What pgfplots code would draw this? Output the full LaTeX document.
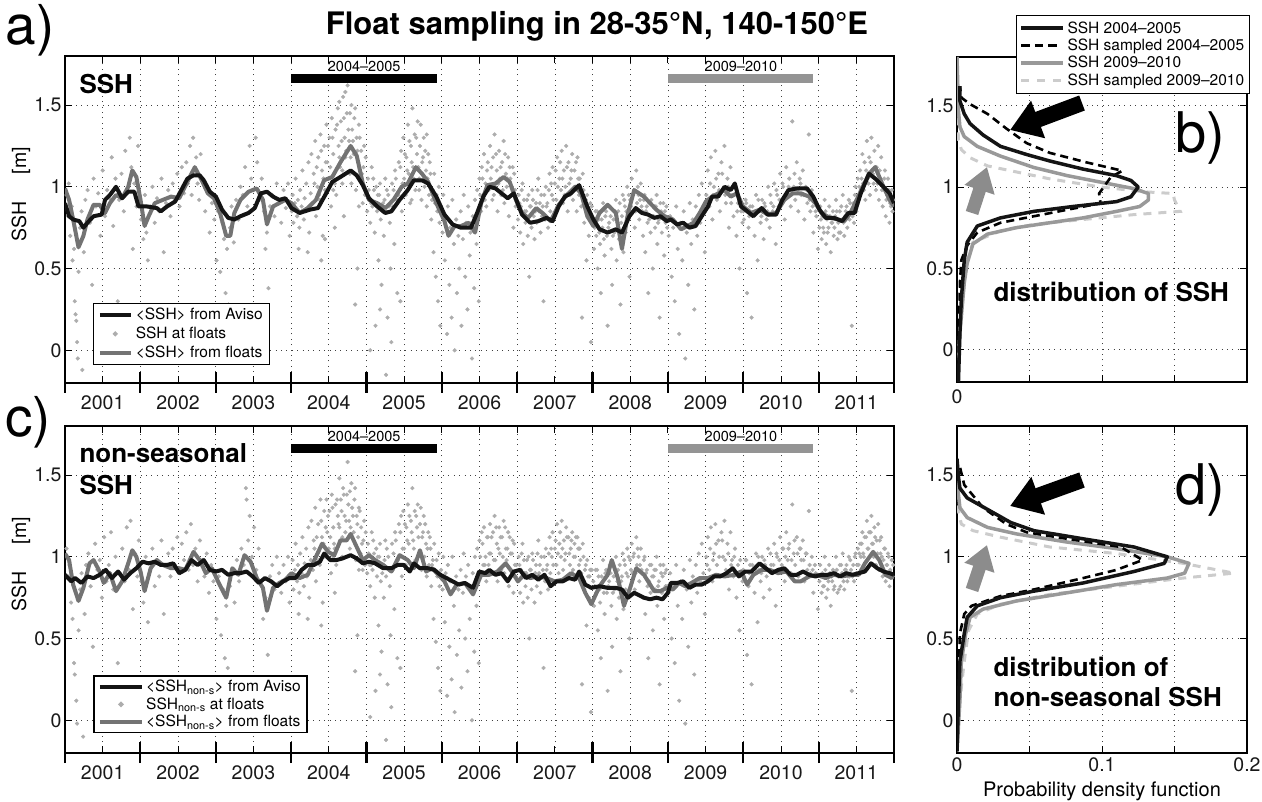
\documentclass[border=0pt]{standalone}
\usepackage{fontspec}
\setmainfont{TeX Gyre Heros}
\usepackage{pgfplots}
\pgfplotsset{compat=1.18}
\usetikzlibrary{arrows.meta}
\definecolor{dotgray}{gray}{0.68}
\definecolor{linegray}{gray}{0.45}
\definecolor{bargray}{gray}{0.58}
\definecolor{pdfgray}{gray}{0.6}
\definecolor{pdflight}{gray}{0.8}
\definecolor{arrowgray}{gray}{0.55}
\definecolor{lineblack}{gray}{0.08}
\pgfplotsset{
  myaxis/.style={
    scale only axis, ymin=-0.2, ymax=1.8,
    ytick={0,0.5,1,1.5}, yticklabels={0,0.5,1,1.5},
    grid=major, major grid style={black!75, line width=0.7pt, dash pattern=on 0.9pt off 4.5pt},
    tick align=inside, major tick length=7pt,
    tick style={black, line width=0.9pt},
    axis line style={black, line width=1.3pt},
    tick label style={font=\fontsize{19.5}{20}\selectfont, text=black!90},
    clip mode=individual,
  },
  timeaxis/.style={myaxis, width=829pt, height=327pt, xmin=2001, xmax=2012,
    xtick={2001,2001.5,2002,2002.5,2003,2003.5,2004,2004.5,2005,2005.5,2006,2006.5,2007,2007.5,2008,2008.5,2009,2009.5,2010,2010.5,2011,2011.5,2012},
    xticklabels={,2001,,2002,,2003,,2004,,2005,,2006,,2007,,2008,,2009,,2010,,2011,},
    xticklabel style={yshift=-9pt}},
  pdfaxis/.style={myaxis, width=290pt, xmin=0, xmax=0.2, xtick={0,0.05,0.1,0.15,0.2}},
  dots/.style={only marks, mark=*, mark size=1.9pt, color=dotgray, mark options={draw=none, fill=dotgray}, forget plot},
  avisoline/.style={lineblack, line width=4pt, line join=round, forget plot},
  floatline/.style={linegray, line width=4pt, line join=round, forget plot},
}
\begin{document}
\begin{tikzpicture}
\path[use as bounding box] (0,0) rectangle (1262pt,-802pt);

% ---------------- panel a ----------------
\begin{axis}[timeaxis, at={(65pt,-383pt)}, anchor=south west,
  legend style={at={(0.034,0.055)}, anchor=south west, draw=black, line width=1.2pt, fill=white,
    font=\fontsize{15.5}{16}\selectfont, inner xsep=4pt, inner ysep=2pt, row sep=0pt,
    nodes={inner sep=3pt}, legend cell align=left}]
\addplot[dots] coordinates {
(2001.02,0.95) (2001.04,0.82) (2001.05,1.02) (2001.07,0.70) (2001.09,0.88) (2001.10,0.55) (2001.12,0.62) (2001.13,0.30) (2001.14,0.22) (2001.15,0.18) (2001.16,0.05) (2001.17,-0.05) (2001.18,0.48) (2001.20,0.75) (2001.22,0.85) (2001.23,-0.12) (2001.25,0.60) (2001.27,0.92) (2001.30,0.98) (2001.33,0.78) (2001.36,0.40) (2001.38,1.05) (2001.41,0.88) (2001.44,0.96) (2001.47,0.70) (2001.50,1.10) (2001.53,0.82) (2001.56,0.98) (2001.59,0.93) (2001.62,1.18) (2001.64,0.76) (2001.67,1.05) (2001.70,0.30) (2001.72,0.92) (2001.75,1.08) (2001.78,0.85) (2001.80,1.22) (2001.83,0.97) (2001.86,1.30) (2001.88,1.12) (2001.90,0.62) (2001.92,1.02) (2001.95,0.88) (2001.97,1.25)
(2002.01,0.80) (2002.04,0.68) (2002.06,0.95) (2002.08,0.72) (2002.10,0.55) (2002.13,0.88) (2002.16,1.00) (2002.19,0.78) (2002.22,0.93) (2002.25,0.85) (2002.28,1.05) (2002.31,0.60) (2002.34,0.90) (2002.37,0.98) (2002.40,0.82) (2002.43,1.02) (2002.46,0.92) (2002.49,1.08) (2002.52,0.88) (2002.55,1.12) (2002.58,0.96) (2002.61,1.15) (2002.63,1.02) (2002.66,1.25) (2002.68,0.95) (2002.70,1.30) (2002.72,1.10) (2002.74,1.18) (2002.76,1.02) (2002.78,0.92) (2002.80,1.20) (2002.83,1.05) (2002.86,0.85) (2002.89,0.98) (2002.92,0.72) (2002.95,0.90) (2002.98,0.80)
(2003.01,0.55) (2003.03,0.85) (2003.06,0.48) (2003.09,0.78) (2003.11,0.68) (2003.13,0.35) (2003.15,0.62) (2003.17,0.28) (2003.19,0.75) (2003.21,0.88) (2003.24,0.66) (2003.27,0.92) (2003.30,0.80) (2003.33,1.00) (2003.36,0.95) (2003.39,1.12) (2003.42,0.88) (2003.45,1.25) (2003.47,1.05) (2003.50,0.98) (2003.53,1.30) (2003.55,1.15) (2003.58,0.92) (2003.61,1.05) (2003.64,0.85) (2003.66,0.62) (2003.68,0.72) (2003.70,0.38) (2003.72,0.88) (2003.75,0.95) (2003.78,0.82) (2003.81,1.02) (2003.84,0.90) (2003.87,0.78) (2003.90,0.98) (2003.93,0.87) (2003.96,1.02) (2003.98,0.70)
(2004.01,0.85) (2004.02,0.95) (2004.03,0.78) (2004.05,0.90) (2004.06,1.05) (2004.08,0.82) (2004.09,0.92) (2004.11,0.75) (2004.12,0.98) (2004.14,0.88) (2004.15,1.10) (2004.17,0.80) (2004.18,0.93) (2004.20,1.02) (2004.21,0.86) (2004.23,1.15) (2004.24,0.72) (2004.26,0.96) (2004.27,1.20) (2004.29,0.90) (2004.30,1.08) (2004.32,1.28) (2004.33,0.82) (2004.35,1.00) (2004.36,1.18) (2004.38,0.92) (2004.39,1.32) (2004.41,1.10) (2004.42,0.70) (2004.44,1.25) (2004.45,0.98) (2004.47,1.38) (2004.48,1.15) (2004.50,1.05) (2004.51,1.30) (2004.53,0.88) (2004.54,1.42) (2004.56,1.20) (2004.57,1.08) (2004.59,1.35) (2004.60,0.95) (2004.62,1.48) (2004.63,1.25) (2004.65,1.12) (2004.66,1.40) (2004.68,1.02) (2004.69,1.55) (2004.71,1.30) (2004.72,1.18) (2004.74,1.45) (2004.75,1.62) (2004.77,1.28) (2004.78,1.08) (2004.80,1.50) (2004.81,1.35) (2004.83,1.20) (2004.84,1.42) (2004.86,0.98) (2004.87,1.30) (2004.89,1.15) (2004.90,1.38) (2004.92,1.05) (2004.93,1.22) (2004.95,0.90) (2004.96,1.12) (2004.98,0.95) (2004.99,1.18) (2004.22,0.60) (2004.40,0.55) (2004.58,0.75) (2004.70,0.82) (2004.85,0.28) (2004.88,0.50) (2004.10,0.62) (2004.45,0.68)
(2005.01,0.85) (2005.02,1.05) (2005.04,0.92) (2005.05,0.78) (2005.07,1.12) (2005.08,0.88) (2005.10,0.98) (2005.11,0.72) (2005.13,1.00) (2005.14,0.85) (2005.16,0.55) (2005.17,0.95) (2005.19,0.80) (2005.20,0.40) (2005.22,0.90) (2005.23,0.70) (2005.25,1.05) (2005.26,0.85) (2005.28,0.20) (2005.29,0.95) (2005.31,0.78) (2005.32,0.50) (2005.34,1.02) (2005.35,0.88) (2005.37,0.65) (2005.38,1.10) (2005.40,0.92) (2005.41,0.35) (2005.43,1.15) (2005.44,0.98) (2005.46,1.22) (2005.47,0.85) (2005.49,1.30) (2005.50,1.05) (2005.52,0.95) (2005.53,1.18) (2005.55,1.38) (2005.56,1.08) (2005.58,0.90) (2005.59,1.25) (2005.61,1.48) (2005.62,1.12) (2005.64,1.32) (2005.65,0.98) (2005.67,1.20) (2005.68,1.40) (2005.70,1.05) (2005.71,1.25) (2005.73,0.92) (2005.74,1.15) (2005.76,1.30) (2005.77,1.00) (2005.79,1.10) (2005.80,0.88) (2005.82,1.20) (2005.83,0.95) (2005.85,1.08) (2005.86,0.80) (2005.88,0.98) (2005.89,0.60) (2005.91,0.90) (2005.92,0.45) (2005.94,0.85) (2005.95,0.30) (2005.97,0.78) (2005.98,0.15) (2005.05,0.00) (2005.12,0.15) (2005.18,0.25) (2005.26,-0.15) (2005.33,0.05) (2005.45,0.30)
(2006.01,0.72) (2006.02,0.95) (2006.04,0.55) (2006.05,0.82) (2006.07,0.10) (2006.08,0.88) (2006.10,0.40) (2006.11,0.75) (2006.13,0.20) (2006.14,0.92) (2006.16,0.65) (2006.17,0.00) (2006.19,0.80) (2006.20,0.35) (2006.22,0.70) (2006.23,0.50) (2006.25,0.85) (2006.26,0.15) (2006.28,0.68) (2006.29,0.95) (2006.31,0.45) (2006.32,0.78) (2006.34,0.25) (2006.35,0.88) (2006.37,0.58) (2006.38,0.72) (2006.40,-0.05) (2006.41,0.82) (2006.43,0.38) (2006.44,0.92) (2006.46,0.65) (2006.47,0.98) (2006.49,0.30) (2006.50,1.05) (2006.52,0.85) (2006.53,1.12) (2006.55,0.95) (2006.56,1.20) (2006.58,1.02) (2006.59,0.88) (2006.61,1.15) (2006.62,0.98) (2006.64,1.25) (2006.65,1.05) (2006.67,0.92) (2006.68,1.18) (2006.70,1.32) (2006.71,1.00) (2006.73,1.10) (2006.74,0.85) (2006.76,1.22) (2006.77,1.05) (2006.79,0.95) (2006.80,1.15) (2006.82,1.28) (2006.83,0.90) (2006.85,1.08) (2006.86,1.00) (2006.88,1.18) (2006.89,0.82) (2006.91,1.05) (2006.92,0.95) (2006.94,1.12) (2006.95,0.75) (2006.97,0.98) (2006.98,0.88)
(2007.01,0.80) (2007.02,0.95) (2007.04,0.72) (2007.05,0.88) (2007.07,1.02) (2007.08,0.65) (2007.10,0.85) (2007.11,0.78) (2007.13,0.92) (2007.14,0.70) (2007.16,0.45) (2007.17,0.88) (2007.19,0.75) (2007.20,0.98) (2007.22,0.82) (2007.23,0.68) (2007.25,0.90) (2007.26,0.78) (2007.28,1.05) (2007.29,0.85) (2007.31,0.72) (2007.32,0.95) (2007.34,0.88) (2007.35,0.30) (2007.37,0.80) (2007.38,1.00) (2007.40,0.90) (2007.41,0.75) (2007.43,1.08) (2007.44,0.85) (2007.46,0.95) (2007.47,1.12) (2007.49,0.82) (2007.50,1.02) (2007.52,0.92) (2007.53,1.18) (2007.55,0.88) (2007.56,1.05) (2007.58,0.98) (2007.59,1.22) (2007.61,0.90) (2007.62,1.10) (2007.64,1.00) (2007.65,1.25) (2007.67,0.85) (2007.68,1.15) (2007.70,0.95) (2007.71,1.05) (2007.73,1.20) (2007.74,0.92) (2007.76,1.10) (2007.77,1.00) (2007.79,0.85) (2007.80,1.18) (2007.82,0.95) (2007.83,1.05) (2007.85,0.88) (2007.86,0.20) (2007.88,0.98) (2007.89,0.78) (2007.91,0.92) (2007.92,0.55) (2007.94,0.85) (2007.95,0.70) (2007.97,0.90) (2007.98,0.05)
(2008.01,0.78) (2008.02,0.62) (2008.04,0.85) (2008.05,0.70) (2008.07,0.50) (2008.08,0.80) (2008.10,0.65) (2008.11,0.35) (2008.13,0.75) (2008.14,0.90) (2008.16,0.58) (2008.17,0.82) (2008.19,0.70) (2008.20,0.15) (2008.22,0.78) (2008.23,0.88) (2008.25,0.62) (2008.26,0.40) (2008.28,0.80) (2008.29,0.72) (2008.31,0.92) (2008.32,0.55) (2008.34,0.85) (2008.35,0.68) (2008.37,0.28) (2008.38,0.78) (2008.40,0.95) (2008.41,0.60) (2008.43,0.88) (2008.44,0.72) (2008.46,1.00) (2008.47,0.82) (2008.49,0.45) (2008.50,0.92) (2008.52,1.05) (2008.53,0.85) (2008.55,0.98) (2008.56,0.75) (2008.58,1.10) (2008.59,0.90) (2008.61,0.95) (2008.62,0.80) (2008.64,1.02) (2008.65,0.88) (2008.67,0.70) (2008.68,0.92) (2008.70,0.60) (2008.71,0.85) (2008.73,0.78) (2008.74,0.35) (2008.76,0.90) (2008.77,0.72) (2008.79,0.82) (2008.80,0.50) (2008.82,0.88) (2008.83,0.75) (2008.85,0.95) (2008.86,0.65) (2008.88,0.80) (2008.89,0.20) (2008.91,0.85) (2008.92,0.72) (2008.94,0.90) (2008.95,0.58) (2008.97,0.78) (2008.98,0.88)
(2009.01,0.70) (2009.03,0.82) (2009.05,0.45) (2009.07,0.75) (2009.09,0.30) (2009.11,0.88) (2009.13,0.62) (2009.15,0.10) (2009.17,0.78) (2009.19,0.55) (2009.21,0.85) (2009.23,-0.05) (2009.25,0.72) (2009.27,0.40) (2009.29,0.90) (2009.31,0.65) (2009.33,0.80) (2009.35,0.25) (2009.37,0.88) (2009.39,0.70) (2009.41,0.95) (2009.43,0.78) (2009.45,1.02) (2009.47,0.85) (2009.49,0.60) (2009.51,0.95) (2009.53,1.10) (2009.55,0.88) (2009.57,1.18) (2009.59,0.80) (2009.61,1.00) (2009.63,1.22) (2009.65,0.92) (2009.67,1.08) (2009.69,0.85) (2009.71,1.15) (2009.73,0.98) (2009.75,1.25) (2009.77,0.90) (2009.79,1.05) (2009.81,0.75) (2009.83,1.12) (2009.85,0.95) (2009.87,0.82) (2009.89,1.02) (2009.91,0.70) (2009.93,0.90) (2009.95,0.50) (2009.97,0.85) (2009.99,0.78)
(2010.01,0.80) (2010.03,0.92) (2010.05,0.35) (2010.07,0.75) (2010.09,0.88) (2010.11,0.20) (2010.13,0.82) (2010.15,0.70) (2010.17,0.95) (2010.19,0.55) (2010.21,0.85) (2010.23,0.78) (2010.25,0.92) (2010.27,0.68) (2010.29,0.88) (2010.31,0.80) (2010.33,1.00) (2010.35,0.75) (2010.37,0.90) (2010.39,0.85) (2010.41,1.02) (2010.43,0.65) (2010.45,0.95) (2010.47,0.88) (2010.49,1.08) (2010.51,0.92) (2010.53,1.00) (2010.55,0.80) (2010.57,1.12) (2010.59,0.95) (2010.61,1.05) (2010.63,0.88) (2010.65,1.40) (2010.67,1.00) (2010.69,0.92) (2010.71,1.15) (2010.73,0.85) (2010.75,1.05) (2010.77,0.95) (2010.79,1.10) (2010.81,0.80) (2010.83,1.00) (2010.85,0.90) (2010.87,1.32) (2010.89,0.85) (2010.91,0.98) (2010.93,0.72) (2010.95,0.92) (2010.97,0.82) (2010.99,0.62)
(2011.01,0.75) (2011.02,0.88) (2011.04,0.68) (2011.05,0.82) (2011.07,0.72) (2011.08,0.92) (2011.10,0.65) (2011.11,0.80) (2011.13,0.75) (2011.14,0.88) (2011.16,0.60) (2011.17,0.78) (2011.19,0.85) (2011.20,0.70) (2011.22,0.82) (2011.23,0.92) (2011.25,0.68) (2011.26,0.78) (2011.28,0.85) (2011.29,0.72) (2011.31,0.80) (2011.32,0.95) (2011.34,0.70) (2011.35,0.82) (2011.37,0.88) (2011.38,0.75) (2011.40,0.92) (2011.41,0.80) (2011.43,0.85) (2011.44,0.15) (2011.46,0.90) (2011.47,0.78) (2011.49,1.00) (2011.50,0.85) (2011.52,1.05) (2011.53,0.92) (2011.55,1.10) (2011.56,0.98) (2011.58,1.20) (2011.59,1.02) (2011.61,1.15) (2011.62,0.92) (2011.64,1.28) (2011.65,1.05) (2011.67,1.18) (2011.68,0.95) (2011.70,1.30) (2011.71,1.10) (2011.73,1.02) (2011.74,1.22) (2011.76,0.98) (2011.77,1.12) (2011.79,1.25) (2011.80,0.92) (2011.82,1.05) (2011.83,1.18) (2011.85,0.88) (2011.86,1.00) (2011.88,1.10) (2011.89,0.82) (2011.91,0.95) (2011.92,1.05) (2011.94,0.78) (2011.95,0.90) (2011.97,0.98) (2011.98,0.85)
(2004.31,1.02) (2004.34,1.12) (2004.37,0.95) (2004.40,1.22) (2004.43,1.05) (2004.46,1.15) (2004.49,1.25) (2004.52,1.12) (2004.55,1.30) (2004.58,1.02) (2004.61,1.38) (2004.64,1.18) (2004.67,1.28) (2004.70,1.42) (2004.73,1.22) (2004.76,1.35) (2004.79,1.18) (2004.82,1.28) (2004.85,1.48) (2004.88,1.22) (2004.91,1.30) (2004.94,1.08) (2004.97,1.25) (2004.64,1.52) (2004.72,1.58) (2004.78,1.45) (2004.56,0.98) (2004.68,1.10) (2004.80,1.02) (2004.90,0.88)
(2005.03,0.98) (2005.06,0.90) (2005.09,1.05) (2005.15,0.95) (2005.18,1.02) (2005.21,0.85) (2005.24,0.92) (2005.27,0.98) (2005.30,0.88) (2005.36,0.98) (2005.39,1.05) (2005.42,0.95) (2005.45,1.12) (2005.48,1.02) (2005.51,1.20) (2005.54,1.10) (2005.57,1.28) (2005.60,1.15) (2005.63,1.05) (2005.66,1.30) (2005.69,1.12) (2005.72,1.38) (2005.75,1.18) (2005.78,1.22) (2005.81,1.05) (2005.84,1.15) (2005.87,0.92) (2005.90,1.08) (2005.93,0.95) (2005.96,1.00) (2005.99,0.88) (2005.60,0.92) (2005.70,0.98) (2005.80,1.32)
(2006.51,0.95) (2006.54,1.05) (2006.57,0.92) (2006.60,1.10) (2006.63,1.00) (2006.66,1.12) (2006.69,0.95) (2006.72,1.20) (2006.75,1.02) (2006.78,1.12) (2006.81,0.98) (2006.84,1.20) (2006.87,1.05) (2006.90,1.12) (2006.93,1.00) (2006.96,1.08) (2006.99,0.92)
(2007.03,0.90) (2007.06,0.98) (2007.09,0.92) (2007.12,0.85) (2007.15,0.95) (2007.18,0.88) (2007.21,0.92) (2007.24,0.85) (2007.27,0.98) (2007.30,0.90) (2007.33,0.82) (2007.36,0.95) (2007.39,0.88) (2007.42,0.98) (2007.45,1.02) (2007.48,0.92) (2007.51,1.10) (2007.54,1.00) (2007.57,1.15) (2007.60,1.05) (2007.63,0.95) (2007.66,1.12) (2007.69,1.02) (2007.72,1.10) (2007.75,0.98) (2007.78,1.15) (2007.81,1.05) (2007.84,0.98) (2007.87,1.08) (2007.90,0.90) (2007.93,0.95) (2007.96,0.82) (2007.99,0.88)
(2008.03,0.75) (2008.06,0.85) (2008.09,0.72) (2008.12,0.80) (2008.15,0.68) (2008.18,0.85) (2008.21,0.75) (2008.24,0.82) (2008.27,0.70) (2008.30,0.85) (2008.33,0.78) (2008.36,0.90) (2008.39,0.82) (2008.42,0.92) (2008.45,0.85) (2008.48,0.95) (2008.51,0.88) (2008.54,0.95) (2008.57,0.85) (2008.60,1.00) (2008.63,0.92) (2008.66,0.85) (2008.69,0.95) (2008.72,0.88) (2008.75,0.80) (2008.78,0.92) (2008.81,0.82) (2008.84,0.88) (2008.87,0.78) (2008.90,0.90) (2008.93,0.82) (2008.96,0.85) (2008.99,0.75)
(2009.52,0.92) (2009.56,1.02) (2009.60,0.95) (2009.64,1.05) (2009.68,0.98) (2009.72,1.08) (2009.76,0.95) (2009.80,1.00) (2009.84,0.90) (2009.88,0.95) (2009.92,0.85) (2009.96,0.92) (2010.00,0.85) (2010.04,0.90) (2010.08,0.82) (2010.12,0.88) (2010.16,0.85) (2010.20,0.92) (2010.24,0.82) (2010.28,0.90) (2010.32,0.85) (2010.36,0.95) (2010.40,0.88) (2010.44,0.98) (2010.48,0.92) (2010.52,1.02) (2010.56,0.95) (2010.60,1.00) (2010.64,0.95) (2010.68,1.08) (2010.72,0.98) (2010.76,1.02) (2010.80,0.95) (2010.84,0.98) (2010.88,0.92) (2010.92,0.88) (2010.96,0.85)
(2011.03,0.80) (2011.06,0.75) (2011.09,0.85) (2011.12,0.72) (2011.15,0.82) (2011.18,0.78) (2011.21,0.75) (2011.24,0.85) (2011.27,0.72) (2011.30,0.88) (2011.33,0.78) (2011.36,0.85) (2011.39,0.82) (2011.42,0.90) (2011.45,0.82) (2011.48,0.95) (2011.51,0.92) (2011.54,1.00) (2011.57,1.05) (2011.60,0.98) (2011.63,1.10) (2011.66,1.02) (2011.69,1.15) (2011.72,1.08) (2011.75,1.12) (2011.78,1.02) (2011.81,1.10) (2011.84,0.98) (2011.87,1.05) (2011.90,0.92) (2011.93,0.98) (2011.96,0.88) (2011.99,0.92)
};
\addplot[floatline] coordinates {
(2001.000,0.99) (2001.054,0.92) (2001.108,0.80) (2001.179,0.63) (2001.244,0.70) (2001.298,0.80) (2001.379,0.89) (2001.460,0.89) (2001.531,0.84) (2001.596,0.90) (2001.677,0.95) (2001.758,0.93) (2001.839,1.00) (2001.893,1.10) (2001.947,1.06) (2002.002,0.92) (2002.056,0.76) (2002.110,0.82) (2002.191,0.90) (2002.299,0.92) (2002.408,0.94) (2002.516,0.93) (2002.624,1.03) (2002.722,1.12) (2002.814,1.04) (2002.895,0.96) (2002.976,0.93) (2003.057,0.84) (2003.139,0.70) (2003.193,0.70) (2003.247,0.84) (2003.328,0.92) (2003.436,0.97) (2003.545,0.99) (2003.626,0.92) (2003.680,0.77) (2003.761,0.88) (2003.842,0.90) (2003.924,0.92) (2004.005,0.90) (2004.113,0.84) (2004.221,0.87) (2004.330,0.92) (2004.438,1.04) (2004.546,1.06) (2004.655,1.15) (2004.790,1.25) (2004.871,1.19) (2004.952,1.02) (2005.034,0.92) (2005.142,0.90) (2005.250,0.87) (2005.358,0.92) (2005.467,1.00) (2005.548,1.02) (2005.656,1.12) (2005.737,1.08) (2005.819,1.03) (2005.927,0.90) (2006.035,0.79) (2006.089,0.70) (2006.170,0.76) (2006.252,0.76) (2006.360,0.78) (2006.441,0.72) (2006.523,0.90) (2006.604,1.01) (2006.712,1.02) (2006.820,1.06) (2006.901,1.03) (2006.983,0.92) (2007.064,0.84) (2007.145,0.81) (2007.253,0.87) (2007.335,0.84) (2007.443,0.79) (2007.551,0.89) (2007.659,0.95) (2007.768,1.00) (2007.849,0.96) (2007.930,0.82) (2008.011,0.76) (2008.093,0.84) (2008.201,0.89) (2008.309,0.84) (2008.390,0.62) (2008.471,0.84) (2008.553,0.98) (2008.682,0.94) (2008.764,0.90) (2008.847,0.86) (2008.956,0.82) (2009.066,0.80) (2009.175,0.74) (2009.258,0.76) (2009.340,0.78) (2009.422,0.84) (2009.504,0.91) (2009.586,0.94) (2009.668,0.96) (2009.751,0.98) (2009.833,0.94) (2009.915,0.96) (2009.997,0.88) (2010.107,0.84) (2010.216,0.86) (2010.326,0.83) (2010.436,0.84) (2010.545,0.92) (2010.655,0.96) (2010.764,0.96) (2010.874,0.94) (2010.956,0.90) (2011.038,0.84) (2011.148,0.81) (2011.258,0.80) (2011.340,0.79) (2011.422,0.84) (2011.504,0.92) (2011.586,1.00) (2011.668,1.08) (2011.751,1.12) (2011.860,1.00) (2011.942,0.92) (2012.000,0.88)
};
\addplot[avisoline] coordinates {
(2001.000,0.90) (2001.054,0.82) (2001.108,0.80) (2001.190,0.79) (2001.244,0.75) (2001.298,0.78) (2001.379,0.82) (2001.487,0.83) (2001.531,0.92) (2001.596,0.95) (2001.677,1.00) (2001.758,0.93) (2001.839,0.97) (2001.920,0.97) (2001.975,0.88) (2002.083,0.88) (2002.218,0.87) (2002.272,0.85) (2002.354,0.88) (2002.462,0.91) (2002.543,0.98) (2002.624,1.05) (2002.705,1.07) (2002.787,1.07) (2002.841,1.04) (2002.922,0.97) (2003.003,0.94) (2003.084,0.86) (2003.166,0.81) (2003.247,0.80) (2003.328,0.82) (2003.436,0.84) (2003.518,0.87) (2003.599,0.96) (2003.680,0.97) (2003.761,0.94) (2003.842,0.92) (2003.924,0.93) (2004.005,0.87) (2004.113,0.84) (2004.249,0.86) (2004.357,0.87) (2004.465,0.96) (2004.546,1.03) (2004.655,1.06) (2004.790,1.10) (2004.871,1.07) (2004.952,1.01) (2005.034,0.93) (2005.142,0.88) (2005.250,0.84) (2005.331,0.85) (2005.440,0.92) (2005.548,0.98) (2005.629,1.04) (2005.737,1.04) (2005.819,1.02) (2005.927,0.94) (2006.035,0.83) (2006.143,0.77) (2006.252,0.75) (2006.387,0.75) (2006.468,0.84) (2006.550,0.94) (2006.631,1.00) (2006.712,0.99) (2006.793,0.96) (2006.874,0.93) (2006.956,0.96) (2007.064,0.83) (2007.172,0.78) (2007.280,0.79) (2007.389,0.81) (2007.470,0.79) (2007.551,0.88) (2007.632,0.94) (2007.714,0.96) (2007.822,1.01) (2007.930,0.88) (2008.011,0.80) (2008.093,0.74) (2008.201,0.72) (2008.309,0.74) (2008.390,0.72) (2008.490,0.82) (2008.573,0.87) (2008.655,0.84) (2008.737,0.83) (2008.819,0.81) (2008.901,0.82) (2008.984,0.79) (2009.038,0.80) (2009.121,0.77) (2009.203,0.78) (2009.285,0.75) (2009.367,0.76) (2009.449,0.82) (2009.532,0.88) (2009.586,0.94) (2009.668,0.94) (2009.751,1.00) (2009.833,0.98) (2009.888,1.02) (2009.970,0.88) (2010.052,0.85) (2010.134,0.82) (2010.244,0.87) (2010.326,0.83) (2010.436,0.83) (2010.518,0.92) (2010.600,0.98) (2010.710,0.99) (2010.847,0.99) (2010.929,0.94) (2011.011,0.86) (2011.093,0.81) (2011.203,0.81) (2011.312,0.79) (2011.395,0.84) (2011.477,0.84) (2011.559,0.96) (2011.668,1.08) (2011.751,1.05) (2011.860,1.00) (2011.942,0.96) (2012.000,0.90)
};
\addplot[black, line width=9pt, forget plot] coordinates {(2004,1.66) (2005.93,1.66)};
\addplot[bargray, line width=9pt, forget plot] coordinates {(2009,1.66) (2010.93,1.66)};
\node[font=\fontsize{14.5}{15}\selectfont] at (axis cs:2004.97,1.735) {2004–2005};
\node[font=\fontsize{14.5}{15}\selectfont] at (axis cs:2009.97,1.735) {2009–2010};
\pgfplotsinvokeforeach{2001,2002,...,2012}{\draw[black, line width=2.2pt] (axis cs:#1,-0.2) ++(0pt,-10pt) -- ++(0pt,21pt);}
\addlegendimage{legend image code/.code={\draw[lineblack, line width=4pt] (0pt,0pt) -- (31pt,0pt);}}
\addlegendentry{<SSH> from Aviso}
\addlegendimage{legend image code/.code={\fill[dotgray] (15.5pt,0pt) circle (1.9pt);}}
\addlegendentry{SSH at floats}
\addlegendimage{legend image code/.code={\draw[linegray, line width=4pt] (0pt,0pt) -- (31pt,0pt);}}
\addlegendentry{<SSH> from floats}
\end{axis}

% ---------------- panel b ----------------
\begin{axis}[pdfaxis, height=325pt, at={(957pt,-382pt)}, anchor=south west,
  xticklabels={0,,,,}, xticklabel style={yshift=-4pt},
  legend style={at={(1.01,1.13)}, anchor=north east, draw=black, line width=1pt, fill=white,
    font=\fontsize{15.5}{16}\selectfont, inner xsep=3pt, inner ysep=4pt, row sep=0pt,
    nodes={inner sep=2.2pt}, legend cell align=left}]
\addplot[pdflight, line width=3pt, dash pattern=on 8pt off 7pt, forget plot] coordinates {
(0.000,-0.20) (0.002,0.10) (0.006,0.51) (0.011,0.66) (0.030,0.73) (0.053,0.77) (0.087,0.80) (0.122,0.83) (0.154,0.85) (0.150,0.92) (0.149,0.96) (0.130,0.97) (0.099,1.00) (0.064,1.05) (0.037,1.10) (0.021,1.13) (0.009,1.18) (0.003,1.23) (0.001,1.29) (0.000,1.53)
};
\addplot[pdfgray, line width=3.5pt, line join=round, forget plot] coordinates {
(0.000,-0.20) (0.002,0.10) (0.005,0.41) (0.007,0.53) (0.011,0.65) (0.021,0.71) (0.041,0.75) (0.064,0.78) (0.087,0.81) (0.110,0.85) (0.126,0.88) (0.132,0.92) (0.132,0.96) (0.122,0.99) (0.099,1.03) (0.076,1.07) (0.053,1.12) (0.030,1.19) (0.014,1.25) (0.005,1.31) (0.002,1.37) (0.001,1.47) (0.000,1.80)
};
\addplot[black, line width=2.6pt, dash pattern=on 8pt off 5pt, forget plot] coordinates {
(0.001,-0.10) (0.002,0.41) (0.003,0.55) (0.007,0.64) (0.014,0.72) (0.030,0.78) (0.053,0.82) (0.076,0.86) (0.099,0.90) (0.098,0.96) (0.106,1.06) (0.114,1.10) (0.090,1.15) (0.064,1.21) (0.048,1.27) (0.034,1.36) (0.021,1.45) (0.009,1.51) (0.003,1.55) (0.002,1.62)
};
\addplot[lineblack, line width=3.5pt, line join=round, forget plot] coordinates {
(0.001,-0.20) (0.002,0.10) (0.003,0.31) (0.005,0.55) (0.007,0.66) (0.014,0.76) (0.030,0.81) (0.053,0.85) (0.080,0.88) (0.110,0.91) (0.120,0.94) (0.125,1.00) (0.120,1.04) (0.110,1.07) (0.087,1.11) (0.064,1.16) (0.048,1.20) (0.030,1.25) (0.018,1.32) (0.009,1.39) (0.005,1.45) (0.002,1.53) (0.002,1.62)
};
\addlegendimage{legend image code/.code={\draw[lineblack, line width=4pt] (0pt,0pt) -- (42pt,0pt);}}
\addlegendentry{SSH 2004–2005}
\addlegendimage{legend image code/.code={\draw[black, line width=2.6pt, dash pattern=on 8.5pt off 5pt] (0pt,0pt) -- (36pt,0pt);}}
\addlegendentry{SSH sampled 2004–2005}
\addlegendimage{legend image code/.code={\draw[pdfgray, line width=4pt] (0pt,0pt) -- (42pt,0pt);}}
\addlegendentry{SSH 2009–2010}
\addlegendimage{legend image code/.code={\draw[pdflight, line width=3pt, dash pattern=on 8pt off 8pt] (0pt,0pt) -- (42pt,0pt);}}
\addlegendentry{SSH sampled 2009–2010}
\end{axis}

% ---------------- panel c ----------------
\begin{axis}[timeaxis, at={(65pt,-753pt)}, anchor=south west,
  legend style={at={(0.034,0.06)}, anchor=south west, draw=black, line width=1.6pt, fill=white,
    font=\fontsize{15.5}{16}\selectfont, inner xsep=4pt, inner ysep=2pt, row sep=0pt,
    nodes={inner sep=2.2pt}, legend cell align=left}]
\addplot[dots] coordinates {
(2001.02,1.05) (2001.04,0.88) (2001.06,0.95) (2001.08,0.72) (2001.10,0.62) (2001.12,0.35) (2001.13,0.28) (2001.15,0.12) (2001.16,-0.02) (2001.18,0.55) (2001.20,0.80) (2001.22,0.90) (2001.24,-0.10) (2001.26,0.65) (2001.28,0.95) (2001.31,1.02) (2001.34,0.82) (2001.37,0.45) (2001.40,1.08) (2001.43,0.92) (2001.46,0.98) (2001.49,0.75) (2001.52,1.12) (2001.55,0.85) (2001.58,0.95) (2001.61,1.15) (2001.64,0.80) (2001.67,1.00) (2001.70,0.35) (2001.73,0.90) (2001.76,1.05) (2001.79,0.85) (2001.82,1.18) (2001.85,0.92) (2001.87,1.22) (2001.90,0.68) (2001.93,1.02) (2001.96,0.88) (2001.98,1.10)
(2002.01,0.85) (2002.04,0.72) (2002.07,1.00) (2002.10,0.60) (2002.13,0.92) (2002.16,1.05) (2002.19,0.82) (2002.22,0.98) (2002.25,0.88) (2002.28,1.10) (2002.31,0.65) (2002.34,0.95) (2002.37,1.02) (2002.40,0.88) (2002.43,1.05) (2002.46,0.95) (2002.49,1.12) (2002.52,0.90) (2002.55,1.08) (2002.58,0.98) (2002.61,1.15) (2002.64,0.92) (2002.67,1.20) (2002.70,0.95) (2002.73,1.05) (2002.76,0.85) (2002.79,1.10) (2002.82,0.98) (2002.85,0.88) (2002.88,1.02) (2002.91,0.78) (2002.94,0.95) (2002.97,0.85)
(2003.01,0.62) (2003.04,0.88) (2003.07,0.52) (2003.10,0.80) (2003.12,0.38) (2003.14,0.70) (2003.16,0.32) (2003.19,0.82) (2003.22,0.92) (2003.25,0.72) (2003.28,0.98) (2003.31,0.85) (2003.34,1.05) (2003.37,0.95) (2003.40,1.42) (2003.41,1.35) (2003.43,1.10) (2003.45,1.25) (2003.48,1.00) (2003.51,1.18) (2003.54,0.92) (2003.57,1.05) (2003.60,0.85) (2003.63,0.62) (2003.66,0.75) (2003.69,0.40) (2003.72,0.88) (2003.75,0.95) (2003.78,0.80) (2003.81,1.00) (2003.84,0.90) (2003.87,0.78) (2003.90,0.95) (2003.93,0.85) (2003.96,1.00) (2003.98,0.72)
(2004.01,0.88) (2004.02,0.98) (2004.03,0.80) (2004.05,0.92) (2004.06,1.08) (2004.08,0.85) (2004.09,0.95) (2004.11,0.78) (2004.12,1.02) (2004.14,0.90) (2004.15,1.12) (2004.17,0.82) (2004.18,0.96) (2004.20,1.05) (2004.21,0.88) (2004.23,1.18) (2004.24,0.75) (2004.26,0.98) (2004.27,1.22) (2004.29,0.92) (2004.30,1.10) (2004.32,1.30) (2004.33,0.85) (2004.35,1.02) (2004.36,1.20) (2004.38,0.95) (2004.39,1.35) (2004.41,1.12) (2004.42,0.72) (2004.44,1.28) (2004.45,1.00) (2004.47,1.35) (2004.48,1.15) (2004.50,1.05) (2004.51,1.28) (2004.53,0.90) (2004.54,1.38) (2004.56,1.18) (2004.57,1.08) (2004.59,1.32) (2004.60,0.95) (2004.62,1.25) (2004.63,1.20) (2004.65,1.10) (2004.66,1.35) (2004.68,1.00) (2004.69,1.42) (2004.71,1.25) (2004.72,1.15) (2004.74,1.38) (2004.75,1.58) (2004.77,1.22) (2004.78,1.05) (2004.80,1.45) (2004.81,1.30) (2004.83,1.15) (2004.84,1.35) (2004.86,0.98) (2004.87,1.25) (2004.89,1.12) (2004.90,1.30) (2004.92,1.02) (2004.93,1.18) (2004.95,0.92) (2004.96,1.10) (2004.98,0.95) (2004.99,1.15) (2004.22,0.62) (2004.40,0.58) (2004.58,0.78) (2004.85,0.30) (2004.88,0.52) (2004.10,0.65)
(2005.01,0.90) (2005.02,1.08) (2005.04,0.95) (2005.05,0.82) (2005.07,1.15) (2005.08,0.92) (2005.10,1.02) (2005.11,0.75) (2005.13,1.05) (2005.14,0.88) (2005.16,0.58) (2005.17,1.00) (2005.19,0.85) (2005.20,0.42) (2005.22,0.95) (2005.23,0.75) (2005.25,1.10) (2005.26,0.88) (2005.28,0.22) (2005.29,1.00) (2005.31,0.82) (2005.32,0.52) (2005.34,1.08) (2005.35,0.92) (2005.37,0.68) (2005.38,1.15) (2005.40,0.95) (2005.41,0.38) (2005.43,1.20) (2005.44,1.00) (2005.46,1.25) (2005.47,0.88) (2005.49,1.28) (2005.50,1.05) (2005.52,0.95) (2005.53,1.18) (2005.55,1.32) (2005.56,1.08) (2005.58,0.92) (2005.59,1.22) (2005.61,1.42) (2005.62,1.10) (2005.64,1.28) (2005.65,0.98) (2005.67,1.18) (2005.68,1.32) (2005.70,1.02) (2005.71,1.20) (2005.73,0.92) (2005.74,1.12) (2005.76,1.25) (2005.77,1.00) (2005.79,1.08) (2005.80,0.88) (2005.82,1.15) (2005.83,0.95) (2005.85,1.05) (2005.86,0.82) (2005.88,0.98) (2005.89,0.62) (2005.91,0.92) (2005.92,0.48) (2005.94,0.88) (2005.95,0.32) (2005.97,0.82) (2005.98,0.18) (2005.05,0.02) (2005.12,0.18) (2005.18,0.28) (2005.26,-0.12) (2005.33,0.08) (2005.45,0.32)
(2006.01,0.80) (2006.02,1.00) (2006.04,0.60) (2006.05,0.90) (2006.07,0.15) (2006.08,0.95) (2006.10,0.45) (2006.11,0.85) (2006.13,0.25) (2006.14,1.00) (2006.16,0.70) (2006.17,0.05) (2006.19,0.88) (2006.20,0.40) (2006.22,0.80) (2006.23,0.55) (2006.25,0.92) (2006.26,0.20) (2006.28,0.78) (2006.29,1.02) (2006.31,0.50) (2006.32,0.88) (2006.34,0.30) (2006.35,0.95) (2006.37,0.62) (2006.38,0.82) (2006.40,0.00) (2006.41,0.90) (2006.43,0.42) (2006.44,1.00) (2006.46,0.70) (2006.47,1.05) (2006.49,0.35) (2006.50,1.10) (2006.52,0.90) (2006.53,1.15) (2006.55,0.95) (2006.56,1.18) (2006.58,1.00) (2006.59,0.85) (2006.61,1.12) (2006.62,0.95) (2006.64,1.20) (2006.65,1.02) (2006.67,0.90) (2006.68,1.15) (2006.70,1.25) (2006.71,0.98) (2006.73,1.08) (2006.74,0.85) (2006.76,1.18) (2006.77,1.02) (2006.79,0.92) (2006.80,1.12) (2006.82,1.22) (2006.83,0.90) (2006.85,1.05) (2006.86,0.98) (2006.88,1.15) (2006.89,0.82) (2006.91,1.02) (2006.92,0.92) (2006.94,1.10) (2006.95,0.78) (2006.97,0.95) (2006.98,0.88)
(2007.01,0.85) (2007.02,1.00) (2007.04,0.78) (2007.05,0.92) (2007.07,1.08) (2007.08,0.72) (2007.10,0.90) (2007.11,0.82) (2007.13,0.98) (2007.14,0.75) (2007.16,0.50) (2007.17,0.92) (2007.19,0.80) (2007.20,1.02) (2007.22,0.88) (2007.23,0.72) (2007.25,0.95) (2007.26,0.82) (2007.28,1.10) (2007.29,0.90) (2007.31,0.78) (2007.32,1.00) (2007.34,0.92) (2007.35,0.32) (2007.37,0.85) (2007.38,1.05) (2007.40,0.95) (2007.41,0.80) (2007.43,1.12) (2007.44,0.90) (2007.46,1.00) (2007.47,1.15) (2007.49,0.85) (2007.50,1.05) (2007.52,0.95) (2007.53,1.20) (2007.55,0.90) (2007.56,1.08) (2007.58,1.00) (2007.59,1.22) (2007.61,0.92) (2007.62,1.10) (2007.64,1.02) (2007.65,1.18) (2007.67,0.88) (2007.68,1.12) (2007.70,0.95) (2007.71,1.05) (2007.73,1.15) (2007.74,0.92) (2007.76,1.08) (2007.77,1.00) (2007.79,0.88) (2007.80,1.12) (2007.82,0.95) (2007.83,1.05) (2007.85,0.90) (2007.86,0.22) (2007.88,1.00) (2007.89,0.80) (2007.91,0.95) (2007.92,0.58) (2007.94,0.88) (2007.95,0.75) (2007.97,0.92) (2007.98,0.05)
(2008.01,0.85) (2008.02,0.70) (2008.04,0.92) (2008.05,0.78) (2008.07,0.55) (2008.08,0.88) (2008.10,0.72) (2008.11,0.38) (2008.13,0.82) (2008.14,0.98) (2008.16,0.65) (2008.17,0.90) (2008.19,0.78) (2008.20,0.18) (2008.22,0.85) (2008.23,0.95) (2008.25,0.70) (2008.26,0.45) (2008.28,0.88) (2008.29,0.80) (2008.31,1.00) (2008.32,0.62) (2008.34,0.92) (2008.35,0.75) (2008.37,0.30) (2008.38,0.85) (2008.40,1.02) (2008.41,0.68) (2008.43,0.95) (2008.44,0.80) (2008.46,1.05) (2008.47,0.88) (2008.49,0.50) (2008.50,0.98) (2008.52,1.08) (2008.53,0.90) (2008.55,1.02) (2008.56,0.80) (2008.58,1.12) (2008.59,0.95) (2008.61,1.00) (2008.62,0.85) (2008.64,1.05) (2008.65,0.92) (2008.67,0.75) (2008.68,0.98) (2008.70,0.65) (2008.71,0.90) (2008.73,0.82) (2008.74,0.38) (2008.76,0.95) (2008.77,0.78) (2008.79,0.88) (2008.80,0.55) (2008.82,0.92) (2008.83,0.80) (2008.85,1.00) (2008.86,0.70) (2008.88,0.85) (2008.89,0.22) (2008.91,0.90) (2008.92,0.78) (2008.94,0.95) (2008.95,0.62) (2008.97,0.82) (2008.98,0.92)
(2009.01,0.78) (2009.03,0.90) (2009.05,0.50) (2009.07,0.82) (2009.09,0.35) (2009.11,0.95) (2009.13,0.70) (2009.15,0.12) (2009.17,0.85) (2009.19,0.62) (2009.21,0.92) (2009.23,-0.02) (2009.25,0.80) (2009.27,0.45) (2009.29,0.98) (2009.31,0.72) (2009.33,0.88) (2009.35,0.28) (2009.37,0.95) (2009.39,0.78) (2009.41,1.02) (2009.43,0.85) (2009.45,1.08) (2009.47,0.90) (2009.49,0.65) (2009.51,1.00) (2009.53,1.12) (2009.55,0.92) (2009.57,1.18) (2009.59,0.85) (2009.61,1.02) (2009.63,1.20) (2009.65,0.95) (2009.67,1.10) (2009.69,0.88) (2009.71,1.15) (2009.73,1.00) (2009.75,1.22) (2009.77,0.92) (2009.79,1.08) (2009.81,0.80) (2009.83,1.15) (2009.85,0.98) (2009.87,0.88) (2009.89,1.05) (2009.91,0.75) (2009.93,0.95) (2009.95,0.55) (2009.97,0.90) (2009.99,0.85)
(2010.01,0.88) (2010.03,0.98) (2010.05,0.40) (2010.07,0.82) (2010.09,0.95) (2010.11,0.22) (2010.13,0.90) (2010.15,0.78) (2010.17,1.02) (2010.19,0.60) (2010.21,0.92) (2010.23,0.85) (2010.25,1.00) (2010.27,0.75) (2010.29,0.95) (2010.31,0.88) (2010.33,1.05) (2010.35,0.80) (2010.37,0.95) (2010.39,0.90) (2010.41,1.08) (2010.43,0.70) (2010.45,1.00) (2010.47,0.92) (2010.49,1.12) (2010.51,0.95) (2010.53,1.05) (2010.55,0.85) (2010.57,1.15) (2010.59,0.98) (2010.61,1.08) (2010.63,0.90) (2010.65,1.32) (2010.67,1.02) (2010.69,0.95) (2010.71,1.12) (2010.73,0.88) (2010.75,1.05) (2010.77,0.98) (2010.79,1.10) (2010.81,0.85) (2010.83,1.02) (2010.85,0.92) (2010.87,1.28) (2010.89,0.90) (2010.91,1.00) (2010.93,0.78) (2010.95,0.95) (2010.97,0.88) (2010.99,0.68)
(2011.01,0.85) (2011.02,0.95) (2011.04,0.78) (2011.05,0.90) (2011.07,0.82) (2011.08,1.00) (2011.10,0.75) (2011.11,0.88) (2011.13,0.85) (2011.14,0.95) (2011.16,0.70) (2011.17,0.88) (2011.19,0.92) (2011.20,0.80) (2011.22,0.90) (2011.23,1.00) (2011.25,0.78) (2011.26,0.88) (2011.28,0.95) (2011.29,0.82) (2011.31,0.90) (2011.32,1.02) (2011.34,0.80) (2011.35,0.92) (2011.37,0.95) (2011.38,0.85) (2011.40,1.00) (2011.41,0.88) (2011.43,0.92) (2011.44,0.18) (2011.46,0.95) (2011.47,0.85) (2011.49,1.02) (2011.50,0.90) (2011.52,1.05) (2011.53,0.95) (2011.55,1.08) (2011.56,1.00) (2011.58,1.15) (2011.59,1.02) (2011.61,1.12) (2011.62,0.92) (2011.64,1.22) (2011.65,1.05) (2011.67,1.15) (2011.68,0.95) (2011.70,1.25) (2011.71,1.08) (2011.73,1.00) (2011.74,1.18) (2011.76,0.95) (2011.77,1.10) (2011.79,1.20) (2011.80,0.92) (2011.82,1.02) (2011.83,1.12) (2011.85,0.88) (2011.86,0.98) (2011.88,1.05) (2011.89,0.85) (2011.91,0.95) (2011.92,1.02) (2011.94,0.82) (2011.95,0.92) (2011.97,0.98) (2011.98,0.88)
(2004.31,1.05) (2004.34,1.12) (2004.37,0.98) (2004.40,1.22) (2004.43,1.08) (2004.46,1.18) (2004.49,1.25) (2004.52,1.12) (2004.55,1.30) (2004.58,1.05) (2004.61,1.35) (2004.64,1.18) (2004.67,1.28) (2004.70,1.38) (2004.73,1.22) (2004.76,1.32) (2004.79,1.18) (2004.82,1.25) (2004.85,1.42) (2004.88,1.20) (2004.91,1.28) (2004.94,1.08) (2004.97,1.22) (2004.64,1.48) (2004.78,1.40) (2004.56,1.00) (2004.68,1.12) (2004.90,0.92)
(2005.03,1.02) (2005.06,0.95) (2005.09,1.10) (2005.15,1.00) (2005.18,1.08) (2005.21,0.90) (2005.24,0.98) (2005.27,1.05) (2005.30,0.92) (2005.36,1.02) (2005.39,1.10) (2005.42,0.98) (2005.45,1.15) (2005.48,1.05) (2005.51,1.20) (2005.54,1.10) (2005.57,1.25) (2005.60,1.15) (2005.63,1.05) (2005.66,1.25) (2005.69,1.12) (2005.72,1.30) (2005.75,1.15) (2005.78,1.20) (2005.81,1.05) (2005.84,1.12) (2005.87,0.95) (2005.90,1.08) (2005.93,0.98) (2005.96,1.02) (2005.99,0.92)
(2006.51,1.00) (2006.54,1.08) (2006.57,0.95) (2006.60,1.12) (2006.63,1.02) (2006.66,1.12) (2006.69,0.98) (2006.72,1.18) (2006.75,1.05) (2006.78,1.12) (2006.81,1.00) (2006.84,1.18) (2006.87,1.05) (2006.90,1.12) (2006.93,1.02) (2006.96,1.08) (2006.99,0.95)
(2007.03,0.95) (2007.06,1.02) (2007.09,0.98) (2007.12,0.90) (2007.15,1.00) (2007.18,0.92) (2007.21,0.98) (2007.24,0.90) (2007.27,1.02) (2007.30,0.95) (2007.33,0.88) (2007.36,1.00) (2007.39,0.92) (2007.42,1.02) (2007.45,1.05) (2007.48,0.95) (2007.51,1.10) (2007.54,1.02) (2007.57,1.15) (2007.60,1.05) (2007.63,0.98) (2007.66,1.12) (2007.69,1.02) (2007.72,1.10) (2007.75,1.00) (2007.78,1.12) (2007.81,1.05) (2007.84,0.98) (2007.87,1.08) (2007.90,0.92) (2007.93,0.98) (2007.96,0.88) (2007.99,0.92)
(2008.03,0.82) (2008.06,0.92) (2008.09,0.80) (2008.12,0.88) (2008.15,0.78) (2008.18,0.92) (2008.21,0.82) (2008.24,0.90) (2008.27,0.78) (2008.30,0.92) (2008.33,0.85) (2008.36,0.95) (2008.39,0.88) (2008.42,0.98) (2008.45,0.90) (2008.48,1.00) (2008.51,0.92) (2008.54,1.00) (2008.57,0.90) (2008.60,1.05) (2008.63,0.95) (2008.66,0.90) (2008.69,1.00) (2008.72,0.92) (2008.75,0.85) (2008.78,0.95) (2008.81,0.88) (2008.84,0.92) (2008.87,0.82) (2008.90,0.95) (2008.93,0.88) (2008.96,0.90) (2008.99,0.82)
(2009.52,0.95) (2009.56,1.05) (2009.60,0.98) (2009.64,1.08) (2009.68,1.00) (2009.72,1.10) (2009.76,0.98) (2009.80,1.02) (2009.84,0.95) (2009.88,1.00) (2009.92,0.90) (2009.96,0.98) (2010.00,0.92) (2010.04,0.98) (2010.08,0.90) (2010.12,0.95) (2010.16,0.92) (2010.20,1.00) (2010.24,0.90) (2010.28,0.98) (2010.32,0.92) (2010.36,1.02) (2010.40,0.95) (2010.44,1.02) (2010.48,0.98) (2010.52,1.05) (2010.56,1.00) (2010.60,1.05) (2010.64,0.98) (2010.68,1.10) (2010.72,1.02) (2010.76,1.05) (2010.80,0.98) (2010.84,1.02) (2010.88,0.95) (2010.92,0.92) (2010.96,0.90)
(2011.03,0.88) (2011.06,0.82) (2011.09,0.92) (2011.12,0.80) (2011.15,0.90) (2011.18,0.85) (2011.21,0.82) (2011.24,0.92) (2011.27,0.80) (2011.30,0.95) (2011.33,0.85) (2011.36,0.92) (2011.39,0.88) (2011.42,0.98) (2011.45,0.88) (2011.48,1.00) (2011.51,0.95) (2011.54,1.02) (2011.57,1.08) (2011.60,1.00) (2011.63,1.12) (2011.66,1.05) (2011.69,1.15) (2011.72,1.08) (2011.75,1.12) (2011.78,1.02) (2011.81,1.10) (2011.84,1.00) (2011.87,1.05) (2011.90,0.95) (2011.93,1.00) (2011.96,0.90) (2011.99,0.95)
};
\addplot[floatline] coordinates {
(2001.000,1.02) (2001.054,0.98) (2001.108,0.83) (2001.179,0.73) (2001.244,0.81) (2001.325,0.96) (2001.379,0.98) (2001.460,0.91) (2001.514,0.84) (2001.596,0.90) (2001.677,0.79) (2001.758,0.85) (2001.839,0.96) (2001.893,1.04) (2001.947,1.00) (2002.002,0.91) (2002.056,0.79) (2002.137,0.93) (2002.218,0.98) (2002.299,0.95) (2002.408,0.93) (2002.516,0.93) (2002.597,0.92) (2002.705,1.03) (2002.787,0.98) (2002.868,0.90) (2002.949,0.93) (2003.030,0.85) (2003.139,0.75) (2003.220,0.93) (2003.301,0.89) (2003.382,1.01) (2003.463,0.97) (2003.545,0.87) (2003.626,0.81) (2003.680,0.67) (2003.761,0.81) (2003.842,0.84) (2003.924,0.86) (2004.005,0.90) (2004.113,0.87) (2004.221,0.89) (2004.330,1.00) (2004.411,1.08) (2004.492,1.03) (2004.573,1.01) (2004.655,1.10) (2004.736,1.10) (2004.790,1.14) (2004.871,1.06) (2004.952,0.98) (2005.034,1.01) (2005.115,0.98) (2005.223,0.95) (2005.331,0.91) (2005.440,1.01) (2005.548,0.98) (2005.629,0.93) (2005.710,1.04) (2005.791,0.91) (2005.873,0.93) (2005.954,0.89) (2006.035,0.85) (2006.116,0.77) (2006.198,0.83) (2006.306,0.84) (2006.414,0.77) (2006.523,0.89) (2006.631,0.89) (2006.739,0.91) (2006.847,0.96) (2006.928,0.91) (2007.010,0.85) (2007.091,0.89) (2007.172,0.87) (2007.280,0.88) (2007.389,0.87) (2007.497,0.85) (2007.605,0.86) (2007.714,0.90) (2007.822,0.87) (2007.903,0.78) (2007.984,0.71) (2008.093,0.82) (2008.201,0.89) (2008.255,0.98) (2008.336,0.87) (2008.417,0.70) (2008.499,0.81) (2008.580,0.93) (2008.682,0.89) (2008.737,0.85) (2008.819,0.79) (2008.901,0.79) (2008.984,0.81) (2009.066,0.80) (2009.148,0.84) (2009.230,0.82) (2009.312,0.84) (2009.422,0.87) (2009.532,0.87) (2009.641,0.89) (2009.751,0.88) (2009.888,0.89) (2009.970,0.91) (2010.052,0.83) (2010.134,0.89) (2010.244,0.92) (2010.353,0.92) (2010.463,0.90) (2010.573,0.91) (2010.682,0.85) (2010.764,0.85) (2010.874,0.88) (2010.984,0.89) (2011.093,0.87) (2011.203,0.89) (2011.312,0.88) (2011.422,0.89) (2011.532,0.89) (2011.614,0.96) (2011.723,1.03) (2011.805,0.98) (2011.888,0.89) (2011.970,0.87) (2012.000,0.89)
};
\addplot[avisoline] coordinates {
(2001.000,0.89) (2001.081,0.85) (2001.135,0.87) (2001.217,0.84) (2001.298,0.88) (2001.379,0.87) (2001.460,0.89) (2001.541,0.92) (2001.623,0.87) (2001.704,0.91) (2001.785,0.86) (2001.866,0.90) (2001.947,0.93) (2002.029,0.97) (2002.110,0.96) (2002.191,0.97) (2002.272,0.95) (2002.354,0.95) (2002.435,0.96) (2002.516,0.90) (2002.597,0.92) (2002.678,0.98) (2002.760,0.95) (2002.841,0.98) (2002.922,0.92) (2003.003,0.91) (2003.084,0.92) (2003.166,0.89) (2003.247,0.90) (2003.328,0.90) (2003.409,0.91) (2003.490,0.88) (2003.572,0.84) (2003.653,0.87) (2003.734,0.85) (2003.815,0.82) (2003.897,0.85) (2003.978,0.87) (2004.059,0.87) (2004.140,0.92) (2004.221,0.95) (2004.303,0.95) (2004.384,0.97) (2004.438,1.02) (2004.519,0.98) (2004.601,0.98) (2004.682,0.99) (2004.790,1.01) (2004.871,0.99) (2004.952,0.96) (2005.034,0.97) (2005.115,0.96) (2005.223,0.93) (2005.331,0.93) (2005.413,0.95) (2005.494,0.95) (2005.575,0.91) (2005.629,0.96) (2005.710,0.93) (2005.819,0.93) (2005.900,0.92) (2005.981,0.89) (2006.062,0.87) (2006.143,0.85) (2006.225,0.83) (2006.306,0.84) (2006.414,0.81) (2006.495,0.91) (2006.577,0.90) (2006.631,0.92) (2006.712,0.89) (2006.793,0.90) (2006.874,0.85) (2006.956,0.91) (2007.037,0.92) (2007.118,0.87) (2007.199,0.89) (2007.280,0.86) (2007.362,0.89) (2007.443,0.82) (2007.524,0.85) (2007.605,0.85) (2007.687,0.87) (2007.768,0.86) (2007.822,0.91) (2007.903,0.83) (2007.984,0.81) (2008.093,0.82) (2008.201,0.81) (2008.309,0.81) (2008.390,0.80) (2008.471,0.75) (2008.553,0.78) (2008.682,0.75) (2008.764,0.74) (2008.847,0.75) (2008.929,0.74) (2009.000,0.78) (2009.038,0.84) (2009.121,0.84) (2009.203,0.85) (2009.285,0.81) (2009.367,0.83) (2009.449,0.83) (2009.532,0.85) (2009.614,0.88) (2009.696,0.88) (2009.778,0.90) (2009.860,0.93) (2009.942,0.88) (2010.025,0.91) (2010.107,0.91) (2010.216,0.96) (2010.299,0.93) (2010.381,0.90) (2010.463,0.92) (2010.545,0.93) (2010.627,0.89) (2010.710,0.89) (2010.792,0.91) (2010.874,0.89) (2010.956,0.88) (2011.038,0.89) (2011.121,0.89) (2011.203,0.90) (2011.285,0.88) (2011.367,0.90) (2011.449,0.89) (2011.532,0.90) (2011.614,0.91) (2011.696,0.96) (2011.778,0.93) (2011.860,0.91) (2011.942,0.90) (2012.000,0.89)
};
\addplot[black, line width=9pt, forget plot] coordinates {(2004,1.66) (2005.93,1.66)};
\addplot[bargray, line width=9pt, forget plot] coordinates {(2009,1.66) (2010.93,1.66)};
\node[font=\fontsize{14.5}{15}\selectfont] at (axis cs:2004.97,1.735) {2004–2005};
\node[font=\fontsize{14.5}{15}\selectfont] at (axis cs:2009.97,1.735) {2009–2010};
\pgfplotsinvokeforeach{2001,2002,...,2012}{\draw[black, line width=2.2pt] (axis cs:#1,-0.2) ++(0pt,-10pt) -- ++(0pt,21pt);}
\addlegendimage{legend image code/.code={\draw[lineblack, line width=4pt] (0pt,0pt) -- (42pt,0pt);}}
\addlegendentry{<SSH\textsubscript{non-s}> from Aviso}
\addlegendimage{legend image code/.code={\fill[dotgray] (21pt,0pt) circle (1.9pt);}}
\addlegendentry{SSH\textsubscript{non-s} at floats}
\addlegendimage{legend image code/.code={\draw[linegray, line width=4pt] (0pt,0pt) -- (42pt,0pt);}}
\addlegendentry{<SSH\textsubscript{non-s}> from floats}
\end{axis}

% ---------------- panel d ----------------
\begin{axis}[pdfaxis, height=327pt, at={(957pt,-753pt)}, anchor=south west,
  xticklabels={0,,0.1,,0.2}, xticklabel style={yshift=-1pt},
  xlabel={Probability density function}, xlabel style={font=\fontsize{20}{20}\selectfont, yshift=-3pt}]
\addplot[pdflight, line width=3pt, dash pattern=on 8pt off 7pt, forget plot] coordinates {
(0.000,-0.19) (0.002,0.12) (0.005,0.36) (0.008,0.55) (0.014,0.65) (0.030,0.71) (0.064,0.77) (0.110,0.82) (0.156,0.87) (0.191,0.90) (0.156,0.96) (0.110,1.02) (0.064,1.06) (0.030,1.12) (0.011,1.16) (0.003,1.20) (0.001,1.28) (0.000,1.38)
};
\addplot[pdfgray, line width=3.5pt, line join=round, forget plot] coordinates {
(0.000,-0.19) (0.002,0.12) (0.003,0.36) (0.006,0.53) (0.009,0.63) (0.018,0.68) (0.041,0.73) (0.076,0.78) (0.110,0.83) (0.145,0.87) (0.157,0.90) (0.160,0.96) (0.145,1.00) (0.110,1.05) (0.076,1.09) (0.041,1.14) (0.021,1.18) (0.007,1.24) (0.002,1.30) (0.001,1.38) (0.000,1.55)
};
\addplot[black, line width=2.6pt, dash pattern=on 8pt off 5pt, forget plot] coordinates {
(0.000,-0.09) (0.002,0.53) (0.005,0.65) (0.010,0.70) (0.030,0.76) (0.053,0.80) (0.087,0.87) (0.110,0.92) (0.128,0.98) (0.113,1.06) (0.076,1.11) (0.048,1.15) (0.034,1.20) (0.018,1.30) (0.005,1.44) (0.002,1.55)
};
\addplot[lineblack, line width=3.5pt, line join=round, forget plot] coordinates {
(0.000,-0.19) (0.001,0.12) (0.002,0.36) (0.005,0.53) (0.007,0.63) (0.014,0.70) (0.030,0.75) (0.053,0.79) (0.087,0.84) (0.122,0.91) (0.143,0.96) (0.145,1.00) (0.122,1.06) (0.087,1.11) (0.053,1.16) (0.037,1.21) (0.021,1.29) (0.007,1.36) (0.002,1.42) (0.001,1.49) (0.000,1.60)
};
\end{axis}

% ---------------- annotations ----------------
\node[font=\bfseries\fontsize{31}{31}\selectfont] at (597pt,-26pt) {Float sampling in 28-35°N, 140-150°E};
\node[font=\fontsize{55}{55}\selectfont] at (30pt,-30pt) {a)};
\node[font=\fontsize{55}{55}\selectfont] at (28pt,-422pt) {c)};
\node[font=\fontsize{56}{56}\selectfont] at (1200pt,-138pt) {b)};
\node[font=\fontsize{56}{56}\selectfont] at (1200pt,-490pt) {d)};
\node[font=\bfseries\fontsize{26}{26}\selectfont, anchor=west] at (76pt,-84pt) {SSH};
\node[font=\bfseries\fontsize{26}{26}\selectfont, anchor=west] at (76pt,-453pt) {non-seasonal};
\node[font=\bfseries\fontsize{26}{26}\selectfont, anchor=west] at (76pt,-485pt) {SSH};
\node[font=\bfseries\fontsize{26}{26}\selectfont, anchor=west] at (990pt,-292pt) {distribution of SSH};
\node[font=\bfseries\fontsize{26}{26}\selectfont, anchor=west] at (990pt,-667pt) {distribution of};
\node[font=\bfseries\fontsize{26}{26}\selectfont, anchor=west] at (990pt,-697pt) {non-seasonal SSH};
\node[rotate=90, font=\fontsize{19.5}{20}\selectfont] at (21pt,-194pt) {SSH\hspace{27pt}[m]};
\node[rotate=90, font=\fontsize{19.5}{20}\selectfont] at (21pt,-564pt) {SSH\hspace{27pt}[m]};
\draw[black, line width=16pt, -{Triangle[length=30pt, width=38pt]}] (1082pt,-103pt) -- (1010pt,-130pt);
\draw[black, line width=16pt, -{Triangle[length=30pt, width=38pt]}] (1082pt,-480pt) -- (1010pt,-506pt);
\draw[arrowgray, line width=13pt, -{Triangle[length=24pt, width=30pt]}] (972pt,-213pt) -- (987pt,-167pt);
\draw[arrowgray, line width=13pt, -{Triangle[length=24pt, width=30pt]}] (972pt,-590pt) -- (987pt,-545pt);
\end{tikzpicture}
\end{document}
